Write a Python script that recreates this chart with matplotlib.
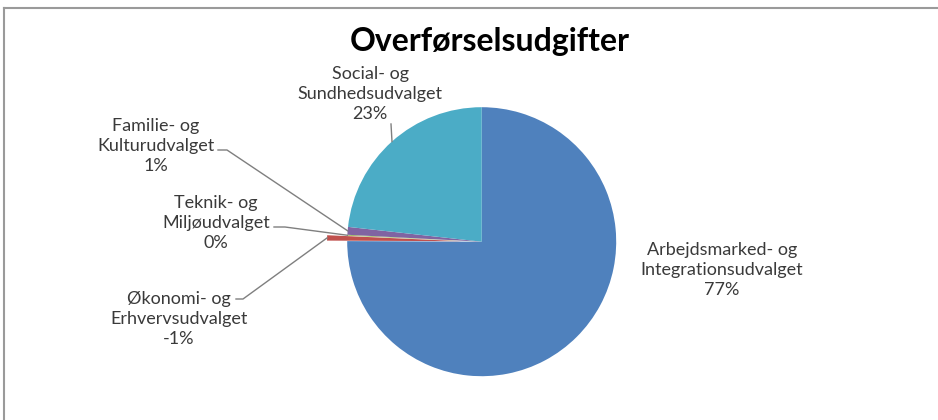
import numpy as np
import matplotlib
matplotlib.use("Agg")
import matplotlib.pyplot as plt
from matplotlib.lines import Line2D

plt.rcParams['font.family'] = ['Lato', 'DejaVu Sans']

# udvalg, andel af cirklen (aflæst), og de viste procenter
names = ["Arbejdsmarked- og\nIntegrationsudvalget", "Økonomi- og\nErhvervsudvalget",
         "Teknik- og\nMiljøudvalget", "Familie- og\nKulturudvalget", "Social- og\nSundhedsudvalget"]
shares = [75.1, 0.64, 0.11, 0.94, 23.25]
pct = [77, -1, 0, 1, 23]
colors = ["#4F81BD", "#C0504D", "#9BBB59", "#8064A2", "#4BACC6"]

W, H = 938, 420
cx, cy, r = 481.7, H - 241.7, 134.5
# negative post is pulled out of the pie (matplotlib explode is in data units)
explode = [0, 0.15 * r, 0, 0, 0]

fig = plt.figure(figsize=(W / 100, H / 100), dpi=100)
ax = fig.add_axes([0, 0, 1, 1])
wedges, _ = ax.pie(shares, colors=colors, explode=explode, startangle=90, counterclock=False,
                   center=(cx, cy), radius=r, wedgeprops=dict(linewidth=0))
ax.set_xlim(0, W)
ax.set_ylim(0, H)
ax.set_aspect('equal')
ax.axis('off')

# label placement (pixels from top-left), leader start and elbow
label_pos = [(722, 270), (179, 319), (216, 223), (156, 146), (370, 94)]
leader = [None, [(236, 299), (243, 299)], [(274, 227), (285, 227)],
          [(218, 150), (227, 150)], [(391, 124)]]

for i, w in enumerate(wedges):
    x, y = label_pos[i]
    ax.text(x, H - y, f"{names[i]}\n{pct[i]}%", ha='center', va='center', fontsize=13,
            color='#3a3a3a', linespacing=1.3)
    if leader[i] is None:
        continue
    mid = np.deg2rad((w.theta1 + w.theta2) / 2)
    wx, wy = w.center
    rim = (wx + w.r * np.cos(mid), wy + w.r * np.sin(mid))
    pts = [(px, H - py) for px, py in leader[i]] + [rim]
    xs, ys = zip(*pts)
    ax.plot(xs, ys, color='#7f7f7f', lw=1)

ax.text(490, H - 42, "Overførselsudgifter", ha='center', va='center', fontsize=23,
        fontweight='bold', color='black')

# chart frame (top and left edges visible)
fig.add_artist(Line2D([4 / W, 1], [1 - 8 / H, 1 - 8 / H], color='#9a9a9a', lw=1.5))
fig.add_artist(Line2D([4 / W, 4 / W], [0, 1 - 8 / H], color='#9a9a9a', lw=1.5))

fig.savefig("out.png", dpi=100)
